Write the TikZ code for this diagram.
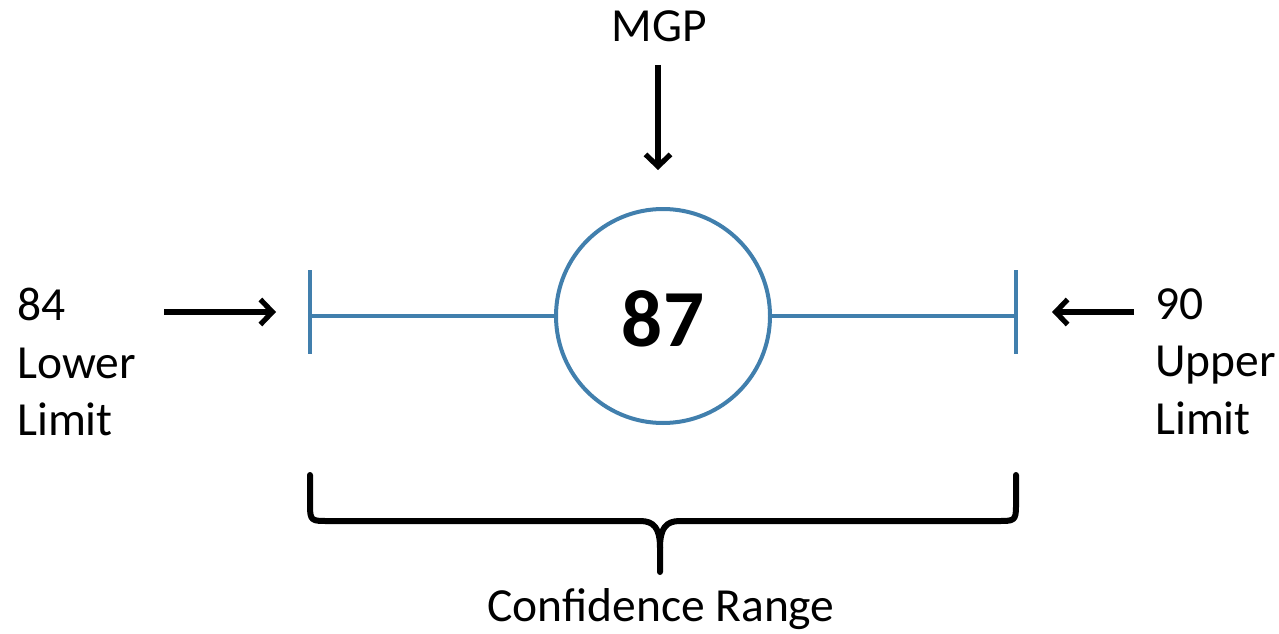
\documentclass[tikz,border=0pt]{standalone}
\usepackage{fontspec}
\setmainfont{Carlito}
\usetikzlibrary{arrows.meta}
\definecolor{rangeblue}{RGB}{65,127,173}
\tikzset{
  lbl/.style={inner sep=0pt, font=\fontsize{47.5}{57.5}\selectfont},
  pointer/.style={line width=5.2pt, -{Straight Barb[length=12pt,width=25pt,line width=5.2pt]}},
  blueline/.style={draw=rangeblue, line width=4pt},
  bracestyle/.style={line width=6pt, line cap=round, line join=round}
}
\begin{document}
\begin{tikzpicture}[x=1pt,y=-1pt]
\useasboundingbox (0,0) rectangle (1279,634);
% circle with value
\node[circle, blueline, minimum size=214pt, inner sep=0pt] (c) at (663,316) {};
\node[inner sep=0pt, anchor=base, font=\fontsize{81}{90}\selectfont\bfseries] (v) at (663,346) {87};
% range ticks
\coordinate (lt) at (310,270); \coordinate (lb) at (310,354); \coordinate (lm) at (310,316);
\coordinate (rt) at (1016,270); \coordinate (rb) at (1016,354); \coordinate (rm) at (1016,316);
\draw[blueline] (lt) -- (lb);
\draw[blueline] (rt) -- (rb);
\draw[blueline] (lm) -- (c.west);
\draw[blueline] (c.east) -- (rm);
% labels
\node[lbl, anchor=base] (mgp) at (659,42) {MGP};
\node[lbl, anchor=north west, align=left] (low) at (17,288) {84\\Lower\\Limit};
\node[lbl, anchor=north west, align=left] (up) at (1155,288) {90\\Upper\\Limit};
\node[lbl, anchor=base] (conf) at (661,621) {Confidence Range};
% arrows
\coordinate (mgpa) at (658,65); \coordinate (mgpb) at (658,170);
\coordinate (la) at (164,312); \coordinate (lb2) at (276,312);
\coordinate (ra) at (1134,312); \coordinate (rb2) at (1052,312);
\draw[pointer] (mgpa) -- (mgpb);
\draw[pointer] (la) -- (lb2);
\draw[pointer] (ra) -- (rb2);
% brace
\coordinate (bl) at (310,475); \coordinate (br) at (1016,475); \coordinate (bt) at (660,572);
\draw[bracestyle] (bl) -- (310,506) .. controls (310,521) and (312,521) .. (328,521)
  -- (640,521) .. controls (654,521) and (660,528) .. (660,548) -- (bt);
\draw[bracestyle] (br) -- (1016,506) .. controls (1016,521) and (1014,521) .. (998,521)
  -- (680,521) .. controls (666,521) and (660,528) .. (660,548);
\end{tikzpicture}
\end{document}
